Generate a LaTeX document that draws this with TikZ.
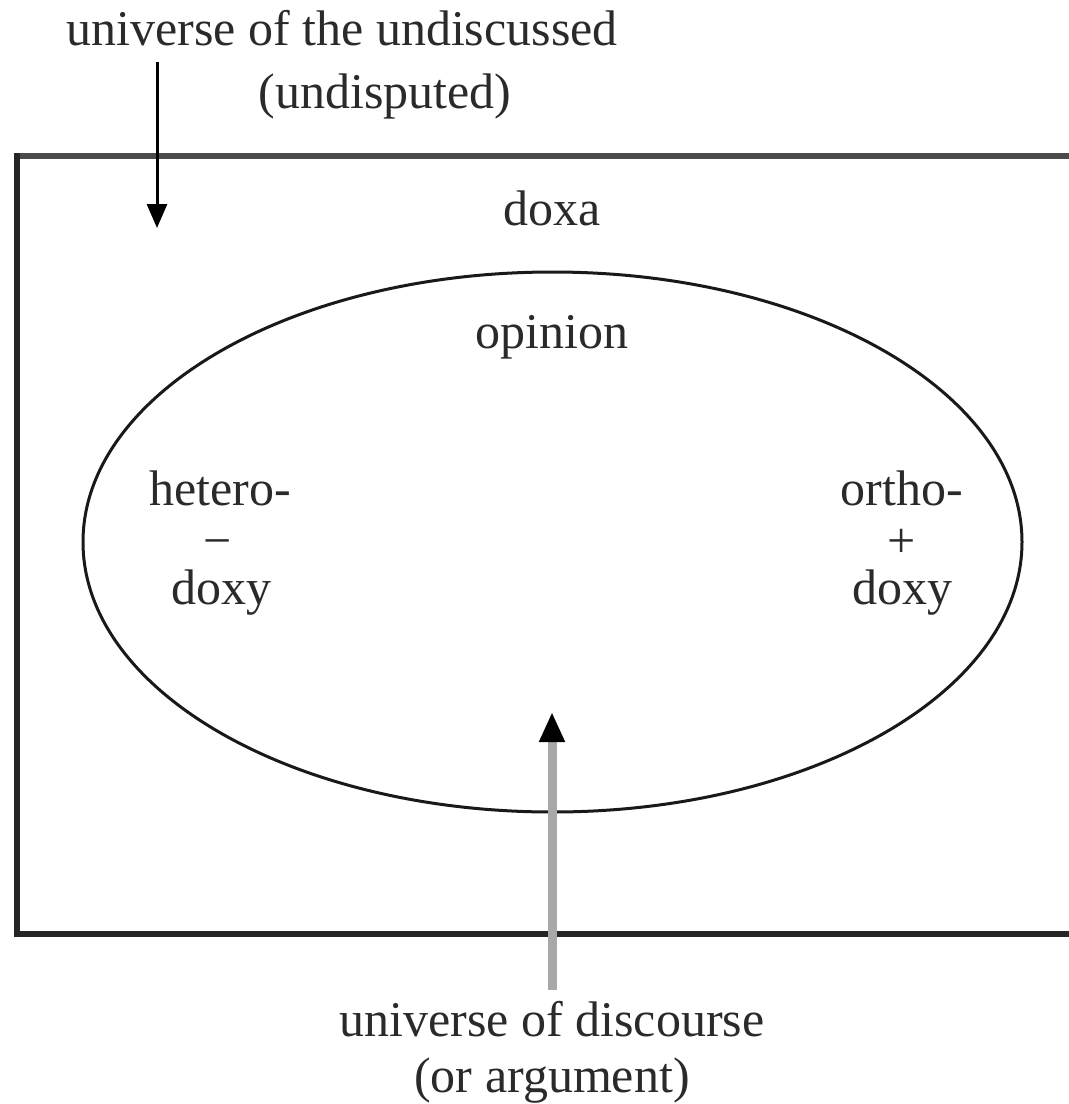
\documentclass[tikz,border=0pt]{standalone}
\usepackage{fontspec}
\setmainfont{Liberation Serif}
\usetikzlibrary{arrows.meta,shapes.geometric}
\definecolor{txt}{HTML}{2A2A2A}
\definecolor{topline}{HTML}{4A4A4A}
\definecolor{botline}{HTML}{252525}
\definecolor{shaft}{HTML}{A8A8A8}
\tikzset{
  lbl/.style={anchor=base, inner sep=0pt, text=txt, font=\fontsize{50}{60}\selectfont},
  frame/.style={line width=5.5pt, botline},
  oval/.style={line width=3pt, black!90},
  downarrow/.style={line width=3pt, black, -{Triangle[length=24pt,width=20pt]}},
  uparrow/.style={line width=9pt, shaft, -{Triangle[length=30pt,width=24pt,color=black]}}
}
\begin{document}
\begin{tikzpicture}[x=1pt,y=-1pt]
\useasboundingbox (0,0) rectangle (1069,1104);
% frame (right side runs off the picture)
\draw[frame, topline] (1080,156) -- (17,156);
\draw[frame] (17,153) -- (17,934) -- (1080,934);
% ellipse
\node[draw, oval, ellipse, minimum width=939pt, minimum height=540pt, inner sep=0pt] (disc) at (552.5,542) {};
% labels
\node[lbl] (undisc1) at (342,45) {universe of the undiscussed};
\node[lbl] (undisc2) at (385,108) {(undisputed)};
\node[lbl] (doxa) at (552,225) {doxa};
\node[lbl] (opinion) at (552,348) {opinion};
\node[lbl] (hetero) at (220,505) {hetero-};
\node[lbl] (minus) at (218,557) {−};
\node[lbl] (hdoxy) at (221,604) {doxy};
\node[lbl] (ortho) at (902,505) {ortho-};
\node[lbl] (plus) at (902,557) {+};
\node[lbl] (odoxy) at (902,604) {doxy};
\node[lbl] (dlabel1) at (552,1036) {universe of discourse};
\node[lbl] (dlabel2) at (552,1092) {(or argument)};
% arrows
\coordinate (a1s) at (157,62);
\coordinate (a1e) at (157,228);
\draw[downarrow] (a1s) -- (a1e);
\coordinate (a2s) at (552,990);
\coordinate (a2e) at (552,712);
\draw[uparrow] (a2s) -- (a2e);
\end{tikzpicture}
\end{document}
